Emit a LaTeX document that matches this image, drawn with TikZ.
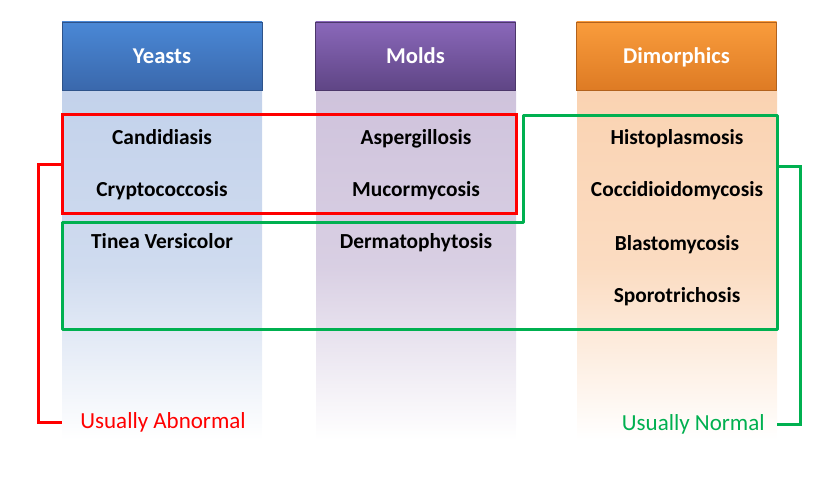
\documentclass[tikz,border=0pt]{standalone}
\usepackage{fontspec}
\setmainfont{Carlito}
\usepackage{tikz}
\usetikzlibrary{calc}
\usetikzlibrary{fit}

\definecolor{yeastTop}{HTML}{4A88D6}
\definecolor{yeastBot}{HTML}{3A68AC}
\definecolor{yeastBody}{HTML}{C3D2EB}
\definecolor{moldTop}{HTML}{8A68BA}
\definecolor{moldBot}{HTML}{5F4585}
\definecolor{moldBody}{HTML}{CFC3DC}
\definecolor{dimTop}{HTML}{F99C3C}
\definecolor{dimBot}{HTML}{DE7B24}
\definecolor{dimBody}{HTML}{FAD3B2}
\definecolor{abnRed}{HTML}{FF0000}
\definecolor{nrmGreen}{HTML}{00B050}

\begin{document}
\begin{tikzpicture}[x=0.5pt,y=-0.5pt,
  head/.style={minimum width=100pt,minimum height=34pt,inner sep=0pt,
    draw=#1Bot!80!black,line width=0.4pt,top color=#1Top,bottom color=#1Bot},
  body/.style={minimum width=100pt,minimum height=174pt,inner sep=0pt,
    top color=#1Body,bottom color=white,middle color=#1Body!80!white},
  item/.style={font=\fontsize{10.7}{13}\selectfont\bfseries,inner sep=0pt,anchor=base},
  title/.style={item,text=white,font=\fontsize{11.3}{13}\selectfont\bfseries},
  tag/.style={font=\fontsize{11.5}{13}\selectfont,inner ysep=0pt,text height=6pt,text depth=0pt},
  redline/.style={draw=abnRed,line width=1.5pt},
  greenline/.style={draw=nrmGreen,line width=1.5pt}]
  \useasboundingbox (0,0) rectangle (835,486);
  % columns
  \node[body=yeast] (ybody) at (162,266) {};
  \node[body=mold] (mbody) at (416,266) {};
  \node[body=dim] (dbody) at (677,266) {};
  \node[head=yeast] (yhead) at (162,56) {};
  \node[head=mold] (mhead) at (415.5,56) {};
  \node[head=dim] (dhead) at (676.5,56) {};
  \node[title] (yeasts) at (162,64) {Yeasts};
  \node[title] (molds) at (415.5,64) {Molds};
  \node[title] (dimorphics) at (676.5,64) {Dimorphics};
  % diseases
  \node[item] (candida) at (162,145) {Candidiasis};
  \node[item] (crypto) at (162,197) {Cryptococcosis};
  \node[item] (tinea) at (162,249) {Tinea Versicolor};
  \node[item] (asperg) at (416,145) {Aspergillosis};
  \node[item] (mucor) at (416,197) {Mucormycosis};
  \node[item] (dermato) at (416,249) {Dermatophytosis};
  \node[item] (histo) at (677,145) {Histoplasmosis};
  \node[item] (cocci) at (677,197) {Coccidioidomycosis};
  \node[item] (blasto) at (677,250) {Blastomycosis};
  \node[item] (sporo) at (677,302) {Sporotrichosis};
  % groups
  \coordinate (rtl) at (62,115);
  \coordinate (rbr) at (516,214);
  \node[fit=(rtl)(rbr),inner sep=0pt,redline] (abnbox) {};
  \draw[greenline,line join=round] (62,223) -- (523,223) -- (523,116) -- (777,116)
    -- (777,329) -- (62,329) -- cycle;
  \coordinate (gside) at (777,167);
  % labels
  \node[tag,text=abnRed,anchor=base west,inner xsep=9pt] (abnormal) at (62,428) {Usually Abnormal};
  \node[tag,text=nrmGreen,anchor=base east,inner xsep=6pt] (normal) at (777,430) {Usually Normal};
  \draw[redline] (abnbox.west) -- ++(-22,0) |- (abnormal.west);
  \draw[greenline] (gside) -- ++(23,0) |- (normal.east);
\end{tikzpicture}
\end{document}
